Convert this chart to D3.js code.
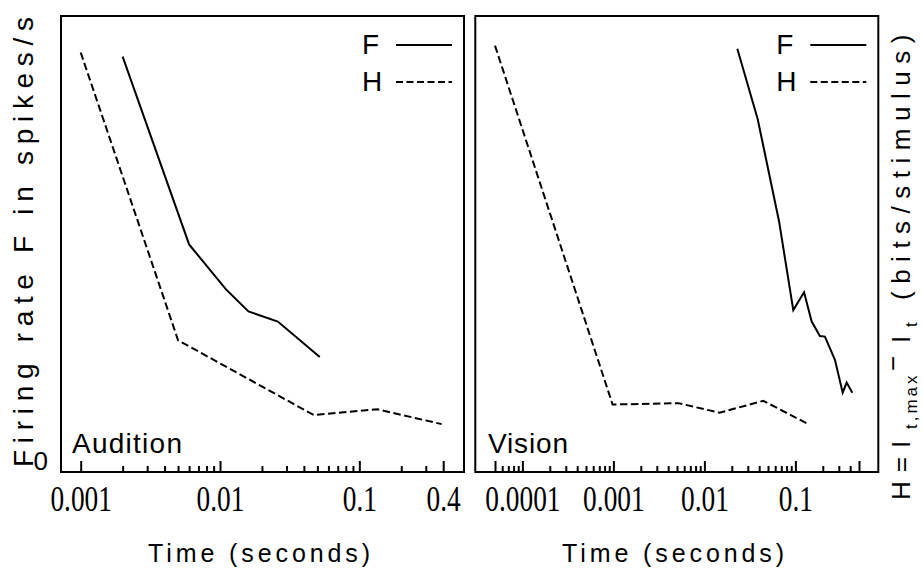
<!DOCTYPE html>
<html><head><meta charset="utf-8">
<script src="https://cdn.jsdelivr.net/npm/d3@7"></script>
<style>body{margin:0;background:#fff} svg{display:block}</style>
</head><body>
<svg id="c" width="923" height="568"></svg>
<script>
// ---------- data ----------
const audTimeF = [0.002, 0.006, 0.011, 0.016, 0.026, 0.052];
const audF     = [91.1, 49.9, 40.1, 35.2, 33.0, 25.2];
const audTimeH = [0.001, 0.005, 0.047, 0.135, 0.39];
const audH     = [92.0, 28.9, 12.5, 13.75, 10.5];
const visTimeF = [0.023, 0.0385, 0.0661, 0.0948, 0.1245, 0.151, 0.186, 0.211, 0.272, 0.331, 0.366, 0.422];
const visF     = [92.8, 77.4, 55.0, 35.5, 39.4, 33.0, 29.8, 29.7, 24.6, 17.4, 19.6, 17.4];
const visTimeH = [0.00005, 0.00098, 0.00516, 0.0146, 0.0444, 0.139];
const visH     = [93.5, 14.8, 15.1, 13.0, 15.6, 10.5];
const audMajorTicks = [0.001, 0.01, 0.1, 0.4];
const audTickLabels = ["0.001", "0.01", "0.1", "0.4"];
const visMajorTicks = [0.00005, 0.0001, 0.001, 0.01, 0.1, 0.5];
const visTickLabels = ["", "0.0001", "0.001", "0.01", "0.1", ""];
const seriesNames = ["F", "H"];
const panelNames = ["Audition", "Vision"];
const xTitle = "Time (seconds)";
const yTitle = "Firing rate F in spikes/s";

// ---------- layout ----------
const svg = d3.select("#c");
const plotTop = 16, plotBottom = 472;
const y = d3.scaleLinear().domain([0, 100]).range([plotBottom, plotTop]);
const sans = "'Liberation Sans', Arial, sans-serif";
const serif = "'Liberation Serif', 'Times New Roman', serif";

const panels = [
  {x0: 61, x1: 464, dom: [0.001, 0.4], rng: [80.7, 443.2],
   major: audMajorTicks, labels: audTickLabels,
   F: audTimeF.map((t,i)=>[t, audF[i]]), H: audTimeH.map((t,i)=>[t, audH[i]]),
   name: panelNames[0], nameX: 72, nameLen: 110, titleX: 259},
  {x0: 475.3, x1: 878.3, dom: [0.00005, 0.5], rng: [495, 859],
   major: visMajorTicks, labels: visTickLabels,
   F: visTimeF.map((t,i)=>[t, visF[i]]), H: visTimeH.map((t,i)=>[t, visH[i]]),
   name: panelNames[1], nameX: 488, nameLen: 80, titleX: 673}
];

panels.forEach(p => {
  const x = d3.scaleLog().domain(p.dom).range(p.rng);
  const g = svg.append("g");

  // minor ticks
  const minor = x.ticks().filter(t => !p.major.some(m => Math.abs(m - t) / t < 1e-6));
  const gMin = g.append("g").attr("transform", `translate(0,${plotBottom})`)
    .call(d3.axisBottom(x).tickValues(minor).tickSize(-6).tickFormat(""));
  gMin.select(".domain").remove();
  gMin.selectAll("line").attr("stroke", "#000").attr("stroke-width", 2);

  const gMaj = g.append("g").attr("transform", `translate(0,${plotBottom})`)
    .call(d3.axisBottom(x).tickValues(p.major).tickSize(-11).tickPadding(13)
      .tickFormat((d, i) => p.labels[i]));
  gMaj.select(".domain").remove();
  gMaj.selectAll("line").attr("stroke", "#000").attr("stroke-width", 2);
  gMaj.selectAll("text").attr("font-family", serif).attr("font-size", 36)
    .attr("fill", "#000").attr("transform", "scale(0.76,1)");

  // frame
  g.append("rect").attr("x", p.x0).attr("y", plotTop)
    .attr("width", p.x1 - p.x0).attr("height", plotBottom - plotTop)
    .attr("fill", "none").attr("stroke", "#000").attr("stroke-width", 2);

  const line = d3.line().x(d => x(d[0])).y(d => y(d[1]));
  g.append("path").attr("d", line(p.F)).attr("fill", "none")
    .attr("stroke", "#000").attr("stroke-width", 2);
  g.append("path").attr("d", line(p.H)).attr("fill", "none")
    .attr("stroke", "#000").attr("stroke-width", 2).attr("stroke-dasharray", "7.5,3.5");

  // legend
  const lx = p.x1 - 102;
  [[seriesNames[0], 54, 45, null], [seriesNames[1], 91, 82, "7,3.5"]].forEach(([lab, by, ly, dash]) => {
    g.append("text").attr("x", lx).attr("y", by).text(lab)
      .attr("font-family", sans).attr("font-size", 28);
    const l = g.append("line").attr("x1", p.x1 - 68).attr("x2", p.x1 - 12)
      .attr("y1", ly).attr("y2", ly).attr("stroke", "#000").attr("stroke-width", 2);
    if (dash) l.attr("stroke-dasharray", dash);
  });

  // panel name
  g.append("text").attr("x", p.nameX).attr("y", 453).text(p.name)
    .attr("font-family", sans).attr("font-size", 28)
    .attr("textLength", p.nameLen).attr("lengthAdjust", "spacing");

  // x title
  g.append("text").attr("x", p.titleX).attr("y", 562).attr("text-anchor", "middle")
    .text(xTitle).attr("font-family", sans).attr("font-size", 25)
    .attr("textLength", 222).attr("lengthAdjust", "spacing");
});

// y zero label
svg.append("text").attr("x", 48).attr("y", 470).attr("text-anchor", "end")
  .text("0").attr("font-family", sans).attr("font-size", 26);

// left y title
svg.append("text").attr("transform", "translate(33,467) rotate(-90)")
  .text(yTitle).attr("font-family", sans).attr("font-size", 28)
  .attr("textLength", 450).attr("lengthAdjust", "spacing");

// right y title
const rt = svg.append("text").attr("transform", "translate(910,500) rotate(-90)")
  .attr("font-family", sans).attr("font-size", 26);
rt.append("tspan").attr("x", 0).attr("letter-spacing", 9).text("H=I");
rt.append("tspan").attr("x", 71).attr("dy", 7).attr("font-size", 17).attr("letter-spacing", 3).text("t,max");
rt.append("tspan").attr("x", 129).attr("dy", -15).text("\u2212");
rt.append("tspan").attr("x", 157).attr("dy", 8).text("I");
rt.append("tspan").attr("x", 173).attr("dy", 7).attr("font-size", 17).text("t");
rt.append("tspan").attr("x", 200).attr("dy", -7).attr("letter-spacing", 7.5).text("(bits/stimulus)");
</script>
</body></html>
